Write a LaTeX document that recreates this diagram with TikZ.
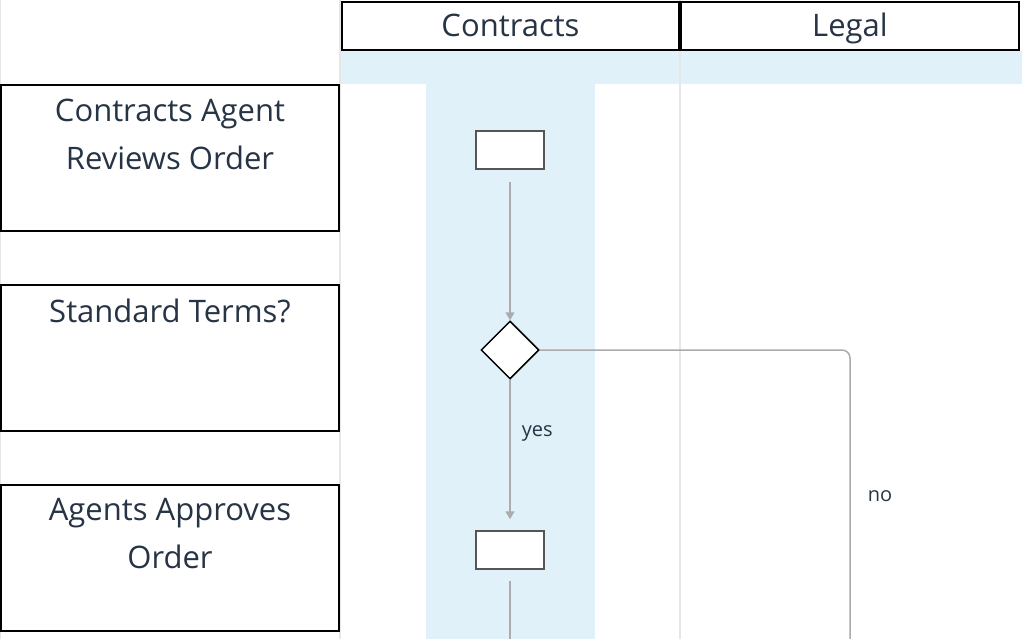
\documentclass[tikz,border=0pt]{standalone}
\usepackage{fontspec}
\setmainfont{Open Sans}
\usetikzlibrary{shapes.geometric,arrows.meta}
\definecolor{navy}{HTML}{263445}
\definecolor{laneblue}{HTML}{E1F1FA}
\definecolor{gridgray}{HTML}{E6E6E6}
\definecolor{linkgray}{HTML}{ABABB0}
\definecolor{boxgray}{HTML}{555555}
\tikzset{
  lanehead/.style={draw=black, line width=2pt, fill=white, minimum height=48pt, inner sep=0pt, text=navy, text height=22pt, text depth=0pt, font=\fontsize{31}{34}\selectfont},
  rowbox/.style={draw=black, line width=2pt, fill=white, minimum width=338pt, minimum height=146pt, inner sep=0pt},
  rowtext/.style={anchor=north, inner sep=0pt, text=navy, align=center, font=\fontsize{31}{48}\selectfont},
  taskbox/.style={draw=boxgray, line width=1.5pt, fill=white, minimum width=68pt, minimum height=38pt, inner sep=0pt},
  decbox/.style={diamond, draw=black, line width=1.5pt, fill=white, minimum width=58pt, minimum height=58pt, inner sep=0pt, aspect=1},
  link/.style={draw=linkgray, line width=1.5pt},
  linkarrow/.style={link, -{Triangle[width=9pt,length=8pt]}},
  linklabel/.style={text=navy, font=\fontsize{20}{24}\selectfont, inner sep=0pt},
  grid/.style={draw=gridgray, line width=1.2pt}
}
\begin{document}
\begin{tikzpicture}[x=1pt,y=-1pt]
\useasboundingbox (0,0) rectangle (1022,639);
\fill[white] (0,0) rectangle (1022,639);
% lane backgrounds
\fill[laneblue] (341,51) rectangle (1022,84);
\fill[laneblue] (426,84) rectangle (595,639);
% grid lines
\draw[grid] (0.6,0) -- (0.6,639);
\draw[grid] (340,0) -- (340,639);
\draw[grid] (680,0) -- (680,639);
% lane headers
\node[lanehead, minimum width=337pt] (hC) at (510.5,26) {Contracts};
\node[lanehead, minimum width=338pt] (hL) at (850,26) {Legal};
% row boxes
\node[rowbox] (r1) at (170,158) {};
\node[rowtext] (r1t) at (170,98.5) {Contracts Agent\\Reviews Order};
\node[rowbox] (r2) at (170,358) {};
\node[rowtext] (r2t) at (170,298.5) {Standard Terms?};
\node[rowbox] (r3) at (170,558) {};
\node[rowtext] (r3t) at (170,498.5) {Agents Approves\\Order};
% flow shapes
\node[taskbox] (t1) at (510,150) {};
\node[decbox] (d1) at (510,350) {};
\node[taskbox] (t2) at (510,550) {};
\coordinate (c1) at (850,639);
\coordinate (c2) at (510,639);
% connectors
\draw[linkarrow, shorten <=12pt] (t1.south) -- (d1.north);
\draw[linkarrow, shorten >=11pt] (d1.south) -- node[linklabel, right=11pt, pos=0.36] (ly) {yes} (t2.north);
\draw[link, rounded corners=8pt] (d1.east) -| (c1);
\node[linklabel] (ln) at (880,496) {no};
\draw[link, shorten <=11pt] (t2.south) -- (c2);
\end{tikzpicture}
\end{document}
